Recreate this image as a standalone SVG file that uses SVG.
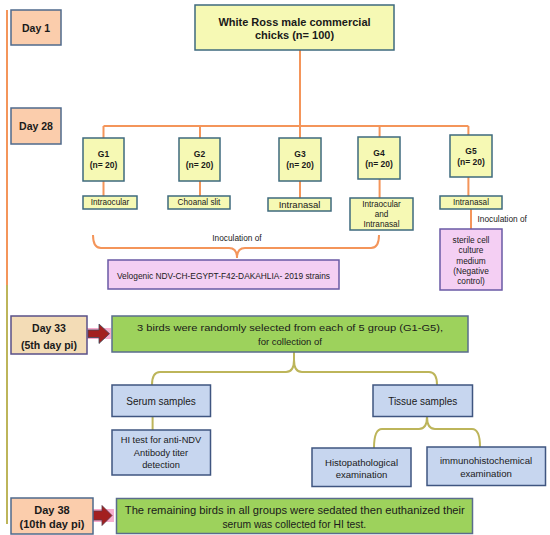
<svg xmlns="http://www.w3.org/2000/svg" width="550" height="535" viewBox="0 0 550 535">
<defs>
<style>
text{font-family:"Liberation Sans",Arial,sans-serif;fill:#1a1a1a;text-anchor:middle;dominant-baseline:central}
.b{font-weight:bold}
.day{fill:#FBCDAC;stroke:#4F6A8C;stroke-width:1.5}
.yel{fill:#F6F9B4;stroke:#3E6A7E;stroke-width:1.5}
.pink{fill:#F4CFF3;stroke:#6A5AA5;stroke-width:1.5}
.grn{fill:#9DD25C;stroke:#5A6C8C;stroke-width:1.5}
.blu{fill:#C7D6EF;stroke:#3F5580;stroke-width:1.5}
.or{fill:none;stroke:#F4955A;stroke-width:2}
.ol{fill:none;stroke:#BDB55A;stroke-width:2}
</style>
<linearGradient id="halo" x1="0" x2="1" y1="0" y2="0">
<stop offset="0" stop-color="#F6A6C8"/><stop offset="1" stop-color="#F7B0D0"/>
</linearGradient>
</defs>

<g id="connectors">
<path class="or" d="M7,10 V285"/>
<path class="ol" d="M7,285 V524"/>
<path class="or" d="M300,50 V126 M103.5,126 H468.4 M103.5,126 V138 M200,126 V138 M300,126 V138 M379.6,126 V137 M468.4,126 V135"/>
<path class="or" d="M103.5,181 V196 M200,181 V196 M300,181 V198 M379.6,179 V198 M468.4,177 V196 M471,209 V229"/>
<path class="or" d="M93,235 Q93,248 101,248 H229 Q237,248 237,258 Q237,248 245,248 H371 Q379,248 379,235"/>
<path class="ol" d="M294,352 V360 M152,385 Q152,372 160,372 H286 Q294,372 294,360 Q294,372 302,372 H429 Q437,372 437,385"/>
<path class="ol" d="M152.6,416.5 V430"/>
<path class="ol" d="M374,448 Q374,429 382,429 H419 Q427,429 427,416.5 Q427,429 435,429 H472 Q480,429 480,447"/>
</g>

<g id="arrow33">
<rect x="87" y="328" width="24" height="11" fill="url(#halo)"/>
<path d="M88,330 H99 V324 L109.5,333.7 L99,343.5 V337.5 H88 Z" fill="#A3201F" stroke="#3C4A5C" stroke-width="0.8"/>
</g>
<g id="arrow38">
<rect x="92" y="509" width="22" height="13" fill="url(#halo)"/>
<path d="M93,511 H102 V505.5 L112,515.5 L102,525.5 V520 H93 Z" fill="#A3201F" stroke="#5A3A4A" stroke-width="0.8"/>
</g>

<g id="day1"><rect class="day" x="11" y="10" width="50" height="35"/><text class="b" x="36" y="27.5" font-size="10.5">Day 1</text></g>
<g id="day28"><rect class="day" x="11" y="108" width="50" height="36"/><text class="b" x="36" y="126" font-size="10.5">Day 28</text></g>
<g id="day33"><rect x="11" y="316" width="76" height="38" fill="#F3DCB6" stroke="#5A5088" stroke-width="1.5"/><text class="b" x="49" y="328" font-size="10.5">Day 33</text><text class="b" x="49" y="345" font-size="10.5">(5th day pi)</text></g>
<g id="day38"><rect class="day" x="11" y="498" width="82" height="36"/><text class="b" x="52" y="510" font-size="11">Day 38</text><text class="b" x="52" y="524" font-size="11">(10th day pi)</text></g>

<g id="main"><rect class="yel" x="195" y="5" width="199" height="45"/><text class="b" x="294.5" y="21.5" font-size="11">White Ross male commercial</text><text class="b" x="294.5" y="35" font-size="11">chicks (n= 100)</text></g>

<g id="g1"><rect class="yel" x="83" y="138" width="41" height="43"/><text class="b" x="103.5" y="154" font-size="8.5">G1</text><text class="b" x="103.5" y="164.5" font-size="8.5">(n= 20)</text></g>
<g id="g2"><rect class="yel" x="179" y="138" width="41" height="43"/><text class="b" x="199.5" y="154" font-size="8.5">G2</text><text class="b" x="199.5" y="164.5" font-size="8.5">(n= 20)</text></g>
<g id="g3"><rect class="yel" x="279" y="138" width="42" height="43"/><text class="b" x="300" y="154" font-size="8.5">G3</text><text class="b" x="300" y="164.5" font-size="8.5">(n= 20)</text></g>
<g id="g4"><rect class="yel" x="358" y="137" width="42" height="42"/><text class="b" x="379" y="153" font-size="8.5">G4</text><text class="b" x="379" y="163.5" font-size="8.5">(n= 20)</text></g>
<g id="g5"><rect class="yel" x="450" y="135" width="42" height="42"/><text class="b" x="471" y="151" font-size="8.5">G5</text><text class="b" x="471" y="161.5" font-size="8.5">(n= 20)</text></g>

<g id="r1"><rect class="yel" x="83" y="196" width="54" height="13"/><text x="110" y="202.8" font-size="8.2">Intraocular</text></g>
<g id="r2"><rect class="yel" x="168" y="196" width="62" height="13"/><text x="199" y="202.8" font-size="8.2">Choanal slit</text></g>
<g id="r3"><rect class="yel" x="268" y="198" width="63" height="13"/><text x="299.5" y="204.8" font-size="9.5">Intranasal</text></g>
<g id="r4"><rect class="yel" x="350" y="198" width="63" height="32"/><text x="381.5" y="204" font-size="8.2">Intraocular</text><text x="381.5" y="214.3" font-size="8.2">and</text><text x="381.5" y="224.7" font-size="8.2">Intranasal</text></g>
<g id="r5"><rect class="yel" x="440" y="196" width="62" height="13"/><text x="471" y="202.8" font-size="8.2">Intranasal</text></g>

<g id="inoc1"><text x="237" y="237.5" font-size="8.3">Inoculation of</text></g>
<g id="inoc2"><text x="477.5" y="219" font-size="8.3" style="text-anchor:start">Inoculation of</text></g>

<g id="velo"><rect class="pink" x="108" y="260" width="231" height="29"/><text x="223.5" y="275.5" font-size="8.7" textLength="213" lengthAdjust="spacingAndGlyphs">Velogenic NDV-CH-EGYPT-F42-DAKAHLIA- 2019 strains</text></g>
<g id="sterile"><rect class="pink" x="440" y="229" width="62" height="61"/><text x="471" y="240" font-size="8.3">sterile cell</text><text x="471" y="250.3" font-size="8.3">culture</text><text x="471" y="260.5" font-size="8.3">medium</text><text x="471" y="270.7" font-size="8.3">(Negative</text><text x="471" y="281" font-size="8.3">control)</text></g>

<g id="sel"><rect class="grn" x="112" y="316" width="356" height="36"/><text x="290" y="327.4" font-size="9.5" textLength="306" lengthAdjust="spacingAndGlyphs">3 birds were randomly selected from each of 5 group (G1-G5),</text><text x="290" y="341.4" font-size="9.5">for collection of</text></g>

<g id="serum"><rect class="blu" x="112" y="385" width="98.5" height="31.5"/><text x="161" y="401.5" font-size="10">Serum samples</text></g>
<g id="tissue"><rect class="blu" x="373" y="385" width="99.5" height="31.5"/><text x="422.7" y="401.5" font-size="10">Tissue samples</text></g>
<g id="hi"><rect class="blu" x="112" y="430" width="98.5" height="45"/><text x="161" y="439.8" font-size="9.3">HI test for anti-NDV</text><text x="161" y="452.8" font-size="9.3">Antibody titer</text><text x="161" y="465.4" font-size="9.3">detection</text></g>
<g id="histo"><rect class="blu" x="312" y="448" width="99" height="38.5"/><text x="361.5" y="462.3" font-size="9.6">Histopathological</text><text x="361.5" y="474.3" font-size="9.6">examination</text></g>
<g id="immuno"><rect class="blu" x="427" y="447" width="118.5" height="38.5"/><text x="486" y="460" font-size="9.6">immunohistochemical</text><text x="486" y="473" font-size="9.6">examination</text></g>

<g id="final"><rect class="grn" x="116.5" y="498.5" width="356" height="35"/><text x="294.8" y="510.5" font-size="10.3" textLength="340" lengthAdjust="spacingAndGlyphs">The remaining birds in all groups were sedated then  euthanized their</text><text x="294.3" y="524" font-size="10.3">serum was collected for HI test.</text></g>
</svg>
